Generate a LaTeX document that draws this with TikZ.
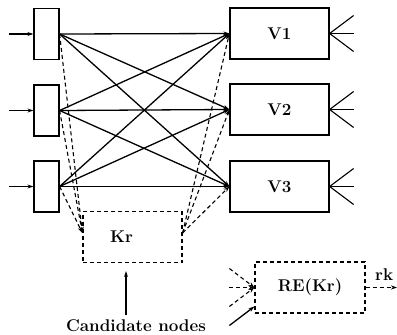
\documentclass[tikz,border=0pt]{standalone}
\usepackage{fontspec}
\usepackage{tikz}
\usetikzlibrary{arrows.meta,calc}
\tikzset{
  inbox/.style={
    rectangle,
    draw=black,
    line width=1.2pt,
    minimum width=25pt,
    minimum height=51pt,
    inner sep=0pt
  },
  vbox/.style={
    rectangle,
    draw=black,
    line width=1.2pt,
    minimum width=99pt,
    minimum height=51pt,
    inner sep=0pt,
    font=\fontsize{17}{19}\selectfont\bfseries
  },
  candbox/.style={
    vbox,
    dashed,
    dash pattern=on 4pt off 3pt
  },
  link/.style={line width=1.3pt, -{Stealth[length=6pt,width=4pt]}},
  dlink/.style={line width=1.1pt, dash pattern=on 4pt off 3pt, -{Stealth[length=6pt,width=4pt]}},
  fan/.style={line width=1.1pt},
  lbl/.style={font=\fontsize{17}{19}\selectfont\bfseries, inner sep=0pt}
}

\begin{document}
\begin{tikzpicture}[x=1pt,y=-1pt]
\useasboundingbox (0,0) rectangle (397,335);
% input units
\node[inbox] (in1) at (46.5,34) {};
\node[inbox] (in2) at (46.5,110.5) {};
\node[inbox] (in3) at (46.5,186.5) {};
% output units
\node[vbox] (v1) at (279.5,33.5) {V1};
\node[vbox] (v2) at (279.5,109.5) {V2};
\node[vbox] (v3) at (279.5,186.5) {V3};
% candidate units
\node[candbox] (kr) at (132.5,237) {\hspace*{-22pt}Kr};
\node[candbox, minimum width=110pt] (re) at (310,287.5) {\raisebox{-4pt}{RE(Kr)}};
\node[lbl] (cand) at (136,325.5) {Candidate nodes};
\node[lbl, anchor=west] (rk) at (375,275) {rk};

% inputs from the left
\foreach \i in {1,2,3}
  \draw[link] ($(in\i.west)+(-24,0)$) coordinate (src\i) -- (in\i.west);

% full connections
\foreach \i in {1,2,3}
  \foreach \j in {1,2,3}
    \draw[link] (in\i.east) -- (v\j.west);

% dashed links through the candidate node
\foreach \i in {1,2,3}
  \draw[dlink] (in\i.east) -- ([yshift=4pt]kr.west);
\foreach \j in {1,2,3}
  \draw[dlink] ([yshift=4pt]kr.east) -- (v\j.west);

% lateral inputs on the right
\foreach \j in {1,2,3} {
  \draw[fan] (v\j.east) -- ++(24,-18);
  \draw[fan] (v\j.east) -- ++(24,0);
  \draw[fan] (v\j.east) -- ++(24,18);
}

% inputs to RE(Kr)
\draw[dlink] ($(re.west)+(-25,-19)$) coordinate (r1) -- (re.west);
\draw[dlink] ($(re.west)+(-25,0)$) coordinate (r2) -- (re.west);
\draw[dlink] ($(re.west)+(-25,19)$) coordinate (r3) -- (re.west);
\draw[link] ($(re.west)+(-25,38)$) coordinate (r4) -- ([yshift=-19pt]re.west);
\draw[dlink] (re.east) -- (397,287.5) coordinate (out);

\draw[link, shorten >=8pt] ([xshift=-10pt,yshift=4pt]cand.north) -- ([xshift=-10pt]cand.north |- kr.south);
\end{tikzpicture}
\end{document}
